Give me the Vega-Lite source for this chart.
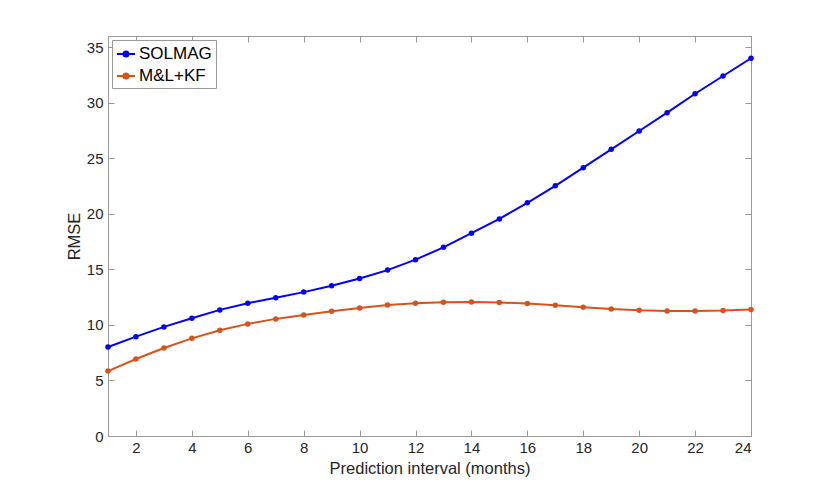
{
  "$schema": "https://vega.github.io/schema/vega-lite/v6.json",
  "width": 643,
  "height": 400,
  "autosize": "none",
  "padding": {"left": 108, "top": 36, "right": 79, "bottom": 54},
  "background": "white",
  "config": {
    "view": {"stroke": "#999999", "strokeWidth": 1},
    "font": "Liberation Sans",
    "axis": {
      "labelFont": "Liberation Sans",
      "titleFont": "Liberation Sans",
      "labelFontSize": 15,
      "titleFontSize": 16.5,
      "labelColor": "#262626",
      "titleColor": "#262626",
      "titleFontWeight": "normal",
      "domainColor": "#999999",
      "tickColor": "#999999",
      "grid": false
    }
  },
  "data": {
    "values": [
      {"month": 1, "rmse": 8.01, "method": "SOLMAG"},
      {"month": 2, "rmse": 8.94, "method": "SOLMAG"},
      {"month": 3, "rmse": 9.82, "method": "SOLMAG"},
      {"month": 4, "rmse": 10.6, "method": "SOLMAG"},
      {"month": 5, "rmse": 11.35, "method": "SOLMAG"},
      {"month": 6, "rmse": 11.95, "method": "SOLMAG"},
      {"month": 7, "rmse": 12.45, "method": "SOLMAG"},
      {"month": 8, "rmse": 12.95, "method": "SOLMAG"},
      {"month": 9, "rmse": 13.52, "method": "SOLMAG"},
      {"month": 10, "rmse": 14.18, "method": "SOLMAG"},
      {"month": 11, "rmse": 14.93, "method": "SOLMAG"},
      {"month": 12, "rmse": 15.87, "method": "SOLMAG"},
      {"month": 13, "rmse": 16.98, "method": "SOLMAG"},
      {"month": 14, "rmse": 18.25, "method": "SOLMAG"},
      {"month": 15, "rmse": 19.54, "method": "SOLMAG"},
      {"month": 16, "rmse": 20.99, "method": "SOLMAG"},
      {"month": 17, "rmse": 22.52, "method": "SOLMAG"},
      {"month": 18, "rmse": 24.15, "method": "SOLMAG"},
      {"month": 19, "rmse": 25.8, "method": "SOLMAG"},
      {"month": 20, "rmse": 27.45, "method": "SOLMAG"},
      {"month": 21, "rmse": 29.1, "method": "SOLMAG"},
      {"month": 22, "rmse": 30.8, "method": "SOLMAG"},
      {"month": 23, "rmse": 32.4, "method": "SOLMAG"},
      {"month": 24, "rmse": 34.0, "method": "SOLMAG"},
      {"month": 1, "rmse": 5.84, "method": "M&L+KF"},
      {"month": 2, "rmse": 6.93, "method": "M&L+KF"},
      {"month": 3, "rmse": 7.92, "method": "M&L+KF"},
      {"month": 4, "rmse": 8.79, "method": "M&L+KF"},
      {"month": 5, "rmse": 9.51, "method": "M&L+KF"},
      {"month": 6, "rmse": 10.09, "method": "M&L+KF"},
      {"month": 7, "rmse": 10.54, "method": "M&L+KF"},
      {"month": 8, "rmse": 10.9, "method": "M&L+KF"},
      {"month": 9, "rmse": 11.23, "method": "M&L+KF"},
      {"month": 10, "rmse": 11.53, "method": "M&L+KF"},
      {"month": 11, "rmse": 11.8, "method": "M&L+KF"},
      {"month": 12, "rmse": 11.95, "method": "M&L+KF"},
      {"month": 13, "rmse": 12.04, "method": "M&L+KF"},
      {"month": 14, "rmse": 12.07, "method": "M&L+KF"},
      {"month": 15, "rmse": 12.01, "method": "M&L+KF"},
      {"month": 16, "rmse": 11.92, "method": "M&L+KF"},
      {"month": 17, "rmse": 11.77, "method": "M&L+KF"},
      {"month": 18, "rmse": 11.59, "method": "M&L+KF"},
      {"month": 19, "rmse": 11.44, "method": "M&L+KF"},
      {"month": 20, "rmse": 11.32, "method": "M&L+KF"},
      {"month": 21, "rmse": 11.26, "method": "M&L+KF"},
      {"month": 22, "rmse": 11.26, "method": "M&L+KF"},
      {"month": 23, "rmse": 11.29, "method": "M&L+KF"},
      {"month": 24, "rmse": 11.38, "method": "M&L+KF"}
    ]
  },
  "layer": [
    {
      "mark": {"type": "line", "strokeWidth": 2, "point": {"filled": true, "size": 30}},
      "encoding": {
        "x": {
          "field": "month",
          "type": "quantitative",
          "scale": {"domain": [1, 24], "nice": false, "zero": false},
          "axis": {
            "title": "Prediction interval (months)",
            "values": [2, 4, 6, 8, 10, 12, 14, 16, 18, 20, 22, 24],
            "tickSize": -6,
            "labelPadding": 10,
            "titlePadding": 5
          }
        },
        "y": {
          "field": "rmse",
          "type": "quantitative",
          "scale": {"domain": [0, 36], "nice": false},
          "axis": {
            "title": "RMSE",
            "values": [0, 5, 10, 15, 20, 25, 30, 35],
            "tickSize": -6,
            "labelPadding": 11,
            "titlePadding": 4
          }
        },
        "color": {
          "field": "method",
          "type": "nominal",
          "sort": ["SOLMAG", "M&L+KF"],
          "scale": {"domain": ["SOLMAG", "M&L+KF"], "range": ["#0000ff", "#d95319"]},
          "legend": {
            "title": null,
            "orient": "top-left",
            "offset": 4,
            "padding": 4,
            "strokeColor": "#999999",
            "fillColor": "white",
            "cornerRadius": 0,
            "labelFont": "Liberation Sans",
            "labelFontSize": 17,
            "labelColor": "#000000",
            "labelOffset": 3,
            "rowPadding": 4,
            "symbolType": "M-1,0H1M-0.28,0A0.28,0.28 0 1,1 0.28,0A0.28,0.28 0 1,1 -0.28,0Z",
            "symbolSize": 324,
            "symbolStrokeWidth": 2,
            "encode": {
              "symbols": {"update": {"fill": {"scale": "color", "field": "value"}}}
            }
          }
        }
      }
    },
    {
      "mark": {"type": "line", "opacity": 0},
      "encoding": {
        "x": {
          "field": "month",
          "type": "quantitative",
          "axis": {
            "orient": "top",
            "title": null,
            "labels": false,
            "values": [2, 4, 6, 8, 10, 12, 14, 16, 18, 20, 22, 24],
            "tickSize": -6
          }
        },
        "y": {
          "field": "rmse",
          "type": "quantitative",
          "axis": {
            "orient": "right",
            "title": null,
            "labels": false,
            "values": [0, 5, 10, 15, 20, 25, 30, 35],
            "tickSize": -6
          }
        },
        "detail": {"field": "method"}
      }
    }
  ],
  "resolve": {"axis": {"x": "independent", "y": "independent"}}
}
